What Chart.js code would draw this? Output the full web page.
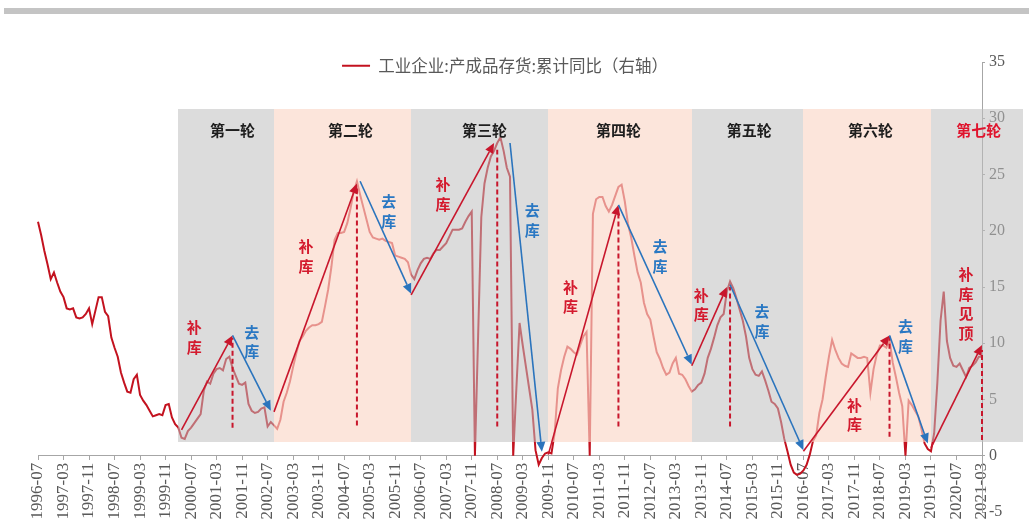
<!DOCTYPE html>
<html lang="zh-CN">
<head>
<meta charset="utf-8">
<title>工业企业产成品存货累计同比</title>
<script src="https://cdn.jsdelivr.net/npm/chart.js@4.4.1/dist/chart.umd.min.js"></script>
<style>
  html, body { margin: 0; padding: 0; background: #fff; }
  #frame { position: relative; width: 1029px; height: 529px; overflow: hidden; }
  #rule { position: absolute; left: 4px; right: 0; top: 8px; height: 6px; background: #c4c4c4; }
  #chart { position: absolute; left: 0; top: 0; }
</style>
</head>
<body>
<div id="frame">
  <canvas id="chart" width="1029" height="529"></canvas>
  <div id="rule"></div>
</div>
<script>
// ---- data -----------------------------------------------------------------
const seriesLabel = '工业企业:产成品存货:累计同比（右轴）';
const firstMonth = '1996-07';
const lastMonth = '2021-03';

// monthly categories, 1996-07 … 2021-03
const months = [];
(function () {
  let [yy, mm] = firstMonth.split('-').map(Number);
  for (;;) {
    const s = yy + '-' + String(mm).padStart(2, '0');
    months.push(s);
    if (s === lastMonth) break;
    mm += 1;
    if (mm > 12) { mm = 1; yy += 1; }
  }
})();

// 累计同比 (%), one value per month
const inventoryYoY = [
  /* 1996 */ 20.8, 19.6, 18.2, 17.0, 15.7, 16.3,
  /* 1997 */ 15.4, 14.6, 14.1, 13.1, 13.0, 13.1, 12.3, 12.2, 12.3, 12.6, 13.1, 11.7,
  /* 1998 */ 12.9, 14.1, 14.1, 12.8, 12.4, 10.5, 9.6, 8.8, 7.4, 6.5, 5.7, 5.6,
  /* 1999 */ 6.8, 7.2, 5.4, 4.9, 4.5, 4.0, 3.5, 3.6, 3.7, 3.6, 4.5, 4.6,
  /* 2000 */ 3.4, 2.8, 2.5, 1.6, 1.5, 2.2, 2.5, 2.9, 3.3, 3.7, 5.8, 6.6,
  /* 2001 */ 6.4, 7.3, 7.7, 7.8, 7.6, 8.6, 8.8, 7.8, 7.1, 6.4, 6.3, 6.5,
  /* 2002 */ 4.6, 4.0, 3.8, 3.9, 4.2, 4.3, 2.6, 3.0, 2.7, 2.4, 3.2, 4.8,
  /* 2003 */ 5.6, 6.6, 7.9, 9.1, 10.2, 10.6, 11.1, 11.4, 11.6, 11.6, 11.7, 11.9,
  /* 2004 */ 13.3, 14.8, 16.8, 19.2, 19.8, 19.8, 19.9, 20.7, 22.0, 23.5, 24.4, 23.2,
  /* 2005 */ 22.1, 21.0, 19.9, 19.4, 19.3, 19.2, 19.3, 19.1, 19.0, 18.9, 17.8, 17.7,
  /* 2006 */ 17.6, 17.5, 17.2, 16.1, 15.7, 16.5, 17.1, 17.5, 17.6, 17.5, 18.0, 18.3,
  /* 2007 */ 18.3, 18.6, 18.9, 19.5, 20.1, 20.1, 20.1, 20.2, 20.8, 21.3, 21.7, 0,
  /* 2008 */ 10.6, 21.2, 24.2, 25.6, 26.6, 27.1, 27.8, 28.3, 27.1, 25.6, 24.8, 0,
  /* 2009 */ 6.0, 11.8, 9.8, 7.9, 6.0, 4.1, 0.5, -0.8, -0.2, 0.2, 0.3, 0.2,
  /* 2010 */ 2.0, 6.0, 7.6, 8.8, 9.7, 9.5, 9.2, 9.0, 9.8, 10.6, 11.0, 0,
  /* 2011 */ 21.5, 22.8, 23.0, 23.0, 22.2, 21.7, 22.3, 23.1, 23.9, 24.1, 22.6, 20.6,
  /* 2012 */ 19.4, 17.8, 16.3, 15.4, 13.6, 12.6, 12.1, 10.6, 9.2, 8.6, 7.8, 7.2,
  /* 2013 */ 7.4, 8.2, 8.7, 7.3, 7.2, 6.8, 6.2, 5.7, 5.9, 6.3, 6.5, 7.3,
  /* 2014 */ 8.7, 9.5, 10.5, 11.6, 12.3, 12.6, 14.6, 15.5, 14.9, 14.0, 13.0, 12.0,
  /* 2015 */ 10.6, 8.7, 7.7, 7.2, 7.1, 7.5, 6.7, 5.8, 4.8, 4.6, 4.2, 3.0,
  /* 2016 */ 1.5, 0.4, -0.8, -1.5, -1.7, -1.6, -1.3, -0.8, 0.1, 1.3, 1.8, 3.8,
  /* 2017 */ 5.0, 7.0, 8.8, 10.3, 9.4, 8.7, 8.2, 8.0, 7.9, 9.1, 8.9, 8.7,
  /* 2018 */ 8.7, 8.8, 8.7, 5.6, 7.7, 9.0, 9.8, 9.8, 9.6, 10.3, 8.3, 7.0,
  /* 2019 */ 5.6, 4.4, 0, 4.9, 4.5, 4.0, 3.5, 2.4, 1.1, 0.6, 0.4, 2.0,
  /* 2020 */ 6.5, 12.0, 14.6, 10.2, 8.7, 8.0, 7.9, 8.2, 7.6, 7.0, 7.8, 8.0,
  /* 2021 */ 8.3, 8.8, 8.8
];

// labelled ticks on the category axis
const tickLabels = [
  '1996-07', '1997-03', '1997-11', '1998-07', '1999-03', '1999-11', '2000-07', '2001-03',
  '2001-11', '2002-07', '2003-03', '2003-11', '2004-07', '2005-03', '2005-11', '2006-07',
  '2007-03', '2007-11', '2008-07', '2009-03', '2009-11', '2010-07', '2011-03', '2011-11',
  '2012-07', '2013-03', '2013-11', '2014-07', '2015-03', '2015-11', '2016-07', '2017-03',
  '2017-11', '2018-07', '2019-03', '2019-11', '2020-07', '2021-03'
];
const rightTicks = { min: -5, max: 35, step: 5 };

// inventory cycles (shaded bands)
const roundNames   = ['第一轮', '第二轮', '第三轮', '第四轮', '第五轮', '第六轮', '第七轮'];
const roundFrom    = ['2000-03', '2002-09', '2006-04', '2009-11', '2013-08', '2016-07', '2019-11'];
const roundTo      = ['2002-09', '2006-04', '2009-11', '2013-08', '2016-07', '2019-11', '2022-04'];
const roundTone    = ['grey', 'pink', 'grey', 'pink', 'grey', 'pink', 'grey'];
const roundLabelAt = ['2001-08', '2004-09', '2008-03', '2011-09', '2015-02', '2018-04', '2021-02'];
const roundLabelTone = ['dark', 'dark', 'dark', 'dark', 'dark', 'dark', 'red'];
const bandTop = 30.8, bandBottom = 1.2, roundLabelValue = 28.95;

// restocking (red) / destocking (blue) arrows
const arrowTone  = ['red', 'blue', 'red', 'blue', 'red', 'blue', 'red', 'blue', 'red', 'blue', 'red', 'blue', 'red'];
const arrowFromX = ['2000-04', '2001-08', '2002-09', '2004-12', '2006-04', '2008-11', '2009-11', '2011-09', '2013-08', '2014-08', '2016-07', '2018-10', '2019-11'];
const arrowFromY = [2.3, 10.7, 3.9, 24.4, 14.3, 27.8, 0.1, 22.3, 8.0, 15.2, 0.4, 10.7, 0.7];
const arrowToX   = ['2001-08', '2002-08', '2004-11', '2006-04', '2008-06', '2009-09', '2011-09', '2013-08', '2014-07', '2016-07', '2018-10', '2019-10', '2021-03'];
const arrowToY   = [10.7, 4.0, 24.2, 14.4, 27.8, 0.35, 22.3, 8.1, 15.0, 0.5, 10.7, 1.1, 9.85];

// dashed markers under each restocking peak
const peakAt   = ['2001-08', '2004-11', '2008-07', '2011-09', '2014-08', '2018-10', '2021-03'];
const peakTop  = [10.5, 23.8, 27.2, 21.8, 15.0, 10.6, 9.4];
const peakBase = [2.5, 2.7, 2.6, 2.6, 2.6, 1.7, 1.4];

// phase captions, written top to bottom
const phaseText = ['补库', '去库', '补库', '去库', '补库', '去库', '补库', '去库', '补库', '去库', '补库', '去库', '补库见顶'];
const phaseTone = ['red', 'blue', 'red', 'blue', 'red', 'blue', 'red', 'blue', 'red', 'blue', 'red', 'blue', 'red'];
const phaseAt   = ['2000-08', '2002-02', '2003-07', '2005-09', '2007-02', '2009-06', '2010-06', '2012-10', '2013-11', '2015-06', '2017-11', '2019-03', '2020-10'];
const phaseY    = [11.4, 11.0, 18.6, 22.6, 24.1, 21.8, 15.0, 18.6, 14.3, 12.8, 4.5, 11.5, 16.1];

// ---- styling ---------------------------------------------------------------
const CJK = "'Noto Sans CJK SC', 'Noto Sans', sans-serif";
const SERIF = "'Liberation Serif', 'DejaVu Serif', serif";
const axisGrey = '#a6a6a6';
const labelGrey = '#595959';
const lineRed = '#c3121f';
const tones = {
  red: '#c8162c', blue: '#2a74bd', dark: '#1e1e1e',
  grey: 'rgba(190,190,190,0.54)', pink: 'rgba(250,215,200,0.65)'
};
const phaseColor = { red: '#d41a2e', blue: '#2a78c3' };

const [baseYear, baseMon] = firstMonth.split('-').map(Number);
const monthIndex = s => {
  const [yy, mm] = s.split('-').map(Number);
  return (yy - baseYear) * 12 + (mm - baseMon);
};

function drawArrow(ctx, x0, y0, x1, y1, color) {
  const a = Math.atan2(y1 - y0, x1 - x0);
  const len = 10, half = 4.5;
  const bx = x1 - len * Math.cos(a), by = y1 - len * Math.sin(a);
  ctx.setLineDash([]);
  ctx.strokeStyle = color;
  ctx.lineWidth = 1.6;
  ctx.beginPath();
  ctx.moveTo(x0, y0);
  ctx.lineTo(bx, by);
  ctx.stroke();
  ctx.fillStyle = color;
  ctx.beginPath();
  ctx.moveTo(x1, y1);
  ctx.lineTo(bx + half * Math.sin(a), by - half * Math.cos(a));
  ctx.lineTo(bx - half * Math.sin(a), by + half * Math.cos(a));
  ctx.closePath();
  ctx.fill();
}

// bands, arrows and captions laid over the series
const cycleOverlay = {
  id: 'cycleOverlay',
  afterDatasetsDraw(chart) {
    const { ctx, scales: { x, y } } = chart;
    const px = s => x.getPixelForValue(monthIndex(s));
    ctx.save();

    const yt = Math.round(y.getPixelForValue(bandTop));
    const yb = Math.round(y.getPixelForValue(bandBottom));
    roundNames.forEach((_, i) => {
      const x0 = Math.round(px(roundFrom[i]));
      const x1 = Math.round(px(roundTo[i]));
      ctx.fillStyle = tones[roundTone[i]];
      ctx.fillRect(x0, yt, x1 - x0, yb - yt);
    });

    ctx.textAlign = 'center';
    ctx.textBaseline = 'middle';
    ctx.font = 'bold 15px ' + CJK;
    roundNames.forEach((name, i) => {
      ctx.fillStyle = roundLabelTone[i] === 'red' ? '#e0142d' : tones.dark;
      ctx.fillText(name, px(roundLabelAt[i]), y.getPixelForValue(roundLabelValue));
    });

    ctx.lineWidth = 2;
    ctx.strokeStyle = tones.red;
    ctx.setLineDash([5, 3]);
    peakAt.forEach((m, i) => {
      const xx = px(m);
      ctx.beginPath();
      ctx.moveTo(xx, y.getPixelForValue(peakBase[i]));
      ctx.lineTo(xx, y.getPixelForValue(peakTop[i]));
      ctx.stroke();
    });

    arrowTone.forEach((tone, i) => {
      drawArrow(ctx,
        px(arrowFromX[i]), y.getPixelForValue(arrowFromY[i]),
        px(arrowToX[i]), y.getPixelForValue(arrowToY[i]),
        tones[tone]);
    });

    ctx.font = 'bold 15px ' + CJK;
    phaseText.forEach((txt, i) => {
      ctx.fillStyle = phaseColor[phaseTone[i]];
      const cx = px(phaseAt[i]);
      const cy = y.getPixelForValue(phaseY[i]);
      [...txt].forEach((ch, k) => ctx.fillText(ch, cx, cy + k * 19.5));
    });

    ctx.restore();
  }
};

// lower the legend so it sits level with the top tick
const legendPlacement = {
  id: 'legendPlacement',
  afterLayout(chart) {
    const lg = chart.legend;
    if (!lg) return;
    lg.top += 22; lg.bottom += 22;
    lg.left -= 5; lg.right -= 5;
  }
};

Chart.defaults.font.family = CJK;

new Chart(document.getElementById('chart'), {
  type: 'line',
  data: {
    labels: months,
    datasets: [{
      label: seriesLabel,
      data: inventoryYoY,
      yAxisID: 'y',
      borderColor: lineRed,
      backgroundColor: lineRed,
      borderWidth: 2,
      pointRadius: 0,
      tension: 0,
      fill: false
    }]
  },
  options: {
    responsive: false,
    animation: false,
    events: [],
    layout: { padding: { top: 25.5, left: 38, right: 0, bottom: 17 } },
    plugins: {
      tooltip: { enabled: false },
      legend: {
        position: 'top',
        fullSize: false,
        labels: {
          usePointStyle: true,
          pointStyle: 'line',
          pointStyleWidth: 28,
          color: labelGrey,
          padding: 10,
          font: { size: 16.5, family: CJK }
        }
      }
    },
    scales: {
      x: {
        type: 'category',
        position: { y: 0 },
        offset: false,
        grid: {
          drawOnChartArea: false,
          drawTicks: true,
          tickLength: 4,
          color: c => tickLabels.includes(months[c.index]) ? axisGrey : 'rgba(0,0,0,0)'
        },
        border: { display: true, color: axisGrey, width: 1 },
        ticks: {
          autoSkip: false,
          minRotation: 90,
          maxRotation: 90,
          padding: 3,
          color: labelGrey,
          font: { family: SERIF, size: 17 },
          callback: (v, i) => tickLabels.includes(months[i]) ? months[i] : ''
        }
      },
      y: {
        position: 'right',
        min: rightTicks.min,
        max: rightTicks.max,
        grid: { drawOnChartArea: false, tickLength: 3, color: axisGrey },
        border: { display: true, color: axisGrey, width: 1 },
        ticks: {
          stepSize: rightTicks.step,
          padding: 4,
          color: labelGrey,
          font: { family: SERIF, size: 16 }
        },
        afterFit(scale) { scale.width = 47; }
      }
    }
  },
  plugins: [cycleOverlay, legendPlacement]
});
</script>
</body>
</html>
